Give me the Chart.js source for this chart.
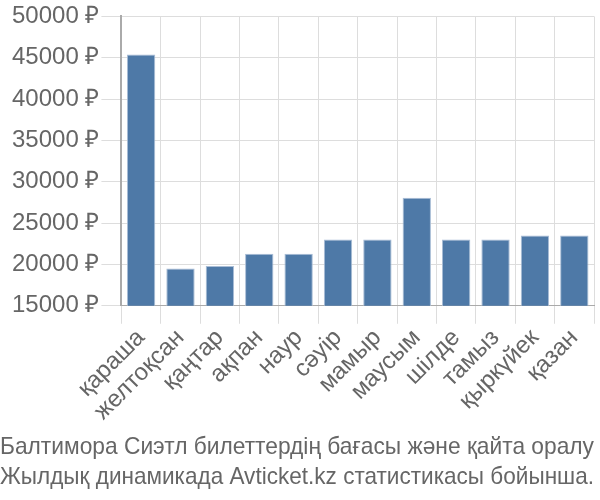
<!DOCTYPE html>
<html lang="kk">
<head>
    <meta charset="UTF-8" />
    <title>Балтимора Сиэтл</title>
    <style>
        html, body { margin: 0; padding: 0; background: #fff; }
        #wrap { width: 600px; height: 500px; }
    </style>
</head>
<body>
    <script src="https://cdn.jsdelivr.net/npm/chart.js"></script>
    <div id="wrap">
        <canvas id="chart" aria-label="Балтимора Сиэтл билеттердің бағасы" role="img"></canvas>
    </div>
    <script>
        "use strict";
        const months = ["қараша", "желтоқсан", "қаңтар", "ақпан", "наур", "сәуір", "мамыр", "маусым", "шілде", "тамыз", "қыркүйек", "қазан"];
        const prices = [45400, 19500, 19800, 21300, 21300, 23000, 23000, 28050, 23000, 23000, 23500, 23500];
        const yTicks = [15000, 20000, 25000, 30000, 35000, 40000, 45000, 50000];
        const caption = ["Балтимора Сиэтл билеттердің бағасы және қайта оралу", "Жылдық динамикада Avticket.kz статистикасы бойынша."];

        const grey = "#666";
        const font = { family: "'Liberation Sans', Arial, sans-serif", size: 24 };

        const ctx = document.getElementById("chart").getContext("2d");
        new Chart(ctx, {
            type: "bar",
            data: {
                labels: months,
                datasets: [{
                    data: prices,
                    backgroundColor: "#4e79a7",
                    borderColor: "#a9bdd6",
                    borderWidth: 1,
                    barPercentage: 0.72,
                    categoryPercentage: 1,
                }],
            },
            options: {
                responsive: true,
                maintainAspectRatio: false,
                animation: false,
                layout: { padding: { left: 0, right: 6, top: 1, bottom: 8 } },
                plugins: {
                    legend: { display: false },
                    tooltip: { enabled: false },
                    title: {
                        display: true,
                        position: "bottom",
                        text: caption,
                        color: grey,
                        font: { family: font.family, size: 24, weight: "normal", lineHeight: 1.25 },
                        padding: { top: 6, bottom: 0 },
                    },
                },
                scales: {
                    x: {
                        grid: { color: "#ddd", offset: true, tickLength: 18 },
                        border: { color: "#aaa" },
                        ticks: {
                            color: grey,
                            font: font,
                            autoSkip: false,
                            minRotation: 45,
                            maxRotation: 45,
                            padding: 0,
                        },
                    },
                    y: {
                        min: yTicks[0],
                        max: yTicks[yTicks.length - 1],
                        afterBuildTicks: (axis) => {
                            axis.ticks = yTicks.map((v) => ({ value: v }));
                        },
                        // keep labels right-aligned but leave room on the left
                        afterFit: (axis) => {
                            axis.width += 10;
                        },
                        grid: { color: "#ddd", tickLength: 20 },
                        border: { color: "#aaa", width: 2 },
                        ticks: {
                            color: grey,
                            font: font,
                            padding: 2,
                            callback: function (value) {
                                return value + " ₽";
                            },
                        },
                    },
                },
            },
        });
    </script>
</body>
</html>
